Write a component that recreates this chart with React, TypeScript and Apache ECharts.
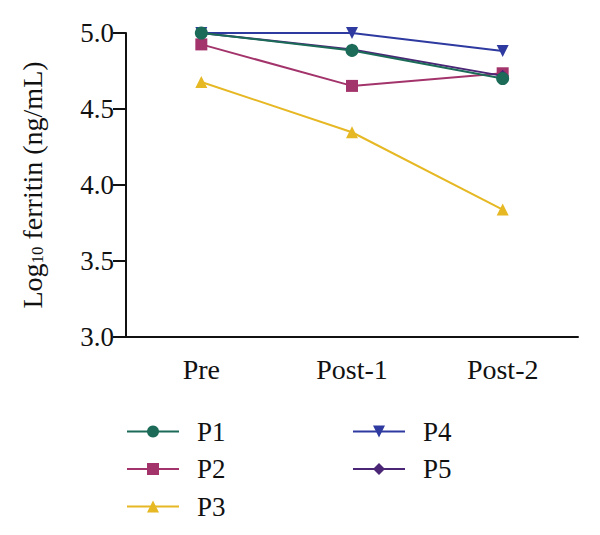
import React, { useEffect, useRef } from "react";
import * as echarts from "echarts";

const categories = ["Pre", "Post-1", "Post-2"];
const seriesNames = ["P1", "P2", "P3", "P4", "P5"];
const p1 = [5.0, 4.885, 4.70];
const p2 = [4.925, 4.652, 4.735];
const p3 = [4.678, 4.347, 3.838];
const p4 = [5.0, 5.0, 4.882];
const p5 = [5.0, 4.892, 4.718];
const yTicks = [3.0, 3.5, 4.0, 4.5, 5.0];

const colors = ["#1b6b58", "#a3346b", "#e6b824", "#2e3aa0", "#4b2677"];
const symbols = ["circle", "rect", "triangle", "triangle", "diamond"];
const rotates = [0, 0, 0, 180, 0];
const zs = [6, 4, 3, 2, 5];

const FONT = "Liberation Serif";

export default function App() {
  const ref = useRef<HTMLDivElement>(null);
  useEffect(() => {
    if (!ref.current) return;
    const chart = echarts.init(ref.current, null, { renderer: "svg" });
    const data = [p1, p2, p3, p4, p5];
    const series = seriesNames.map((name, i) => ({
      name,
      type: "line",
      data: data[i],
      symbol: symbols[i],
      symbolSize: i === 0 ? 13 : 12,
      symbolRotate: rotates[i],
      z: zs[i],
      lineStyle: { color: colors[i], width: 2 },
      itemStyle: { color: colors[i] },
    }));
    const legendBase = {
      orient: "vertical",
      top: 405,
      itemWidth: 52,
      itemHeight: 15,
      itemGap: 10.5,
      textStyle: {
        fontFamily: FONT,
        fontSize: 27,
        color: "#111",
        lineHeight: 27,
        padding: [0, 0, 0, 13],
      },
    };
    chart.setOption({
      animation: false,
      backgroundColor: "#ffffff",
      grid: { left: 118, right: 30, top: 25, bottom: 206 },
      legend: [
        { ...legendBase, left: 113, data: ["P1", "P2", "P3"] },
        { ...legendBase, left: 339, data: ["P4", "P5"] },
      ],
      xAxis: {
        type: "category",
        data: categories,
        boundaryGap: true,
        axisLine: { lineStyle: { color: "#111", width: 2 } },
        axisTick: { alignWithLabel: true, length: 12, lineStyle: { color: "#111", width: 2 } },
        axisLabel: { fontFamily: FONT, fontSize: 28, color: "#111", margin: 18 },
      },
      yAxis: {
        type: "value",
        min: yTicks[0],
        max: yTicks[yTicks.length - 1],
        interval: 0.5,
        splitLine: { show: false },
        axisLine: { show: true, lineStyle: { color: "#111", width: 2 } },
        axisTick: { show: true, length: 13, lineStyle: { color: "#111", width: 2 } },
        axisLabel: {
          fontFamily: FONT,
          fontSize: 27,
          color: "#111",
          margin: 12,
          formatter: (v: number) => v.toFixed(1),
        },
        name: "{a|Log}{b|10}{a| ferritin (ng/mL)}",
        nameLocation: "middle",
        nameGap: 80,
        nameTextStyle: {
          rich: {
            a: { fontFamily: FONT, fontSize: 28, color: "#111", verticalAlign: "bottom", lineHeight: 30 },
            b: { fontFamily: FONT, fontSize: 17, color: "#111", verticalAlign: "bottom", lineHeight: 22 },
          },
        },
      },
      series,
    });
    return () => chart.dispose();
  }, []);
  return <div ref={ref} style={{ width: 600, height: 535 }} />;
}
